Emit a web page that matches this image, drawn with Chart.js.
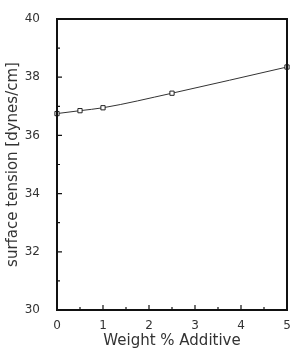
<!DOCTYPE html>
<html>
<head>
<meta charset="utf-8">
<script src="https://cdn.jsdelivr.net/npm/chart.js@4"></script>
<style>
  html, body { margin: 0; padding: 0; background: #fff; }
  #wrap { width: 293px; height: 350px; }
</style>
</head>
<body>
<div id="wrap"><canvas id="tensionChart"></canvas></div>
<script>
// data
const weightPct = [0, 0.5, 1, 2.5, 5];
const surfaceTension = [36.75, 36.85, 36.95, 37.45, 38.35];
const xTicks = [0, 1, 2, 3, 4, 5];
const yTicks = [30, 32, 34, 36, 38, 40];

// inward ticks + frame, like the original plot
const frameTicks = {
    id: 'frameTicks',
    afterDraw(chart) {
        const { ctx, chartArea: a, scales } = chart;
        ctx.save();
        ctx.strokeStyle = '#111';
        ctx.lineWidth = 1.2;
        ctx.beginPath();
        xTicks.forEach((v, i) => {
            const px = scales.x.getPixelForValue(v);
            ctx.moveTo(px, a.bottom); ctx.lineTo(px, a.bottom - 5);
            if (i < xTicks.length - 1) {
                const m = scales.x.getPixelForValue(v + 0.5);
                ctx.moveTo(m, a.bottom); ctx.lineTo(m, a.bottom - 3);
            }
        });
        yTicks.forEach((v, i) => {
            const py = scales.y.getPixelForValue(v);
            ctx.moveTo(a.left, py); ctx.lineTo(a.left + 5, py);
            if (i < yTicks.length - 1) {
                const m = scales.y.getPixelForValue(v + 1);
                ctx.moveTo(a.left, m); ctx.lineTo(a.left + 3, m);
            }
        });
        ctx.stroke();
        ctx.lineWidth = 2;
        ctx.strokeRect(a.left, a.top, a.right - a.left, a.bottom - a.top);
        ctx.restore();
    }
};

new Chart(document.getElementById('tensionChart'), {
    type: 'line',
    data: {
        datasets: [{
            data: weightPct.map((x, i) => ({ x: x, y: surfaceTension[i] })),
            borderColor: '#333',
            borderWidth: 1,
            cubicInterpolationMode: 'monotone',
            pointStyle: 'rect',
            pointRadius: 3,
            pointBackgroundColor: '#fff',
            pointBorderColor: '#222',
            pointBorderWidth: 1,
            clip: false
        }]
    },
    options: {
        responsive: true,
        maintainAspectRatio: false,
        animation: false,
        layout: { padding: { top: 19, right: 6, left: 0, bottom: 0 } },
        plugins: { legend: { display: false }, tooltip: { enabled: false } },
        scales: {
            x: {
                type: 'linear',
                min: 0,
                max: 5,
                afterFit: s => { s.height = 40; },
                afterBuildTicks: s => { s.ticks = xTicks.map(v => ({ value: v })); },
                grid: { display: false },
                border: { display: false },
                ticks: {
                    color: '#333',
                    padding: 1,
                    font: { family: 'DejaVu Sans', size: 12 }
                },
                title: {
                    display: true,
                    text: 'Weight % Additive',
                    color: '#333',
                    padding: { top: 0, bottom: 0 },
                    font: { family: 'DejaVu Sans', size: 15 }
                }
            },
            y: {
                min: 30,
                max: 40,
                afterFit: s => { s.width = 57; },
                afterBuildTicks: s => { s.ticks = yTicks.map(v => ({ value: v })); },
                grid: { display: false },
                border: { display: false },
                ticks: {
                    color: '#333',
                    padding: 9,
                    font: { family: 'DejaVu Sans', size: 12 }
                },
                title: {
                    display: true,
                    text: 'surface tension [dynes/cm]',
                    color: '#333',
                    padding: { top: 4, bottom: 0 },
                    font: { family: 'DejaVu Sans', size: 15 }
                }
            }
        }
    },
    plugins: [frameTicks]
});
</script>
</body>
</html>
